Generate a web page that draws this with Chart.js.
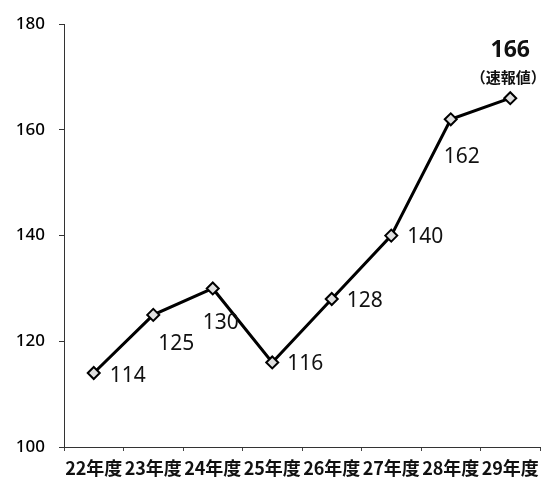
<!DOCTYPE html>
<html>
<head>
<meta charset="utf-8">
<script src="https://cdn.jsdelivr.net/npm/chart.js@4/dist/chart.umd.min.js"></script>
<style>
  html, body { margin: 0; padding: 0; background: #fff; }
  #wrap { width: 548px; height: 482px; position: relative; }
</style>
</head>
<body>
<div id="wrap"><canvas id="c" width="548" height="482"></canvas></div>
<script>
// Fiscal years and yearly counts
const categories = ['22年度', '23年度', '24年度', '25年度', '26年度', '27年度', '28年度', '29年度'];
const counts = [114, 125, 130, 116, 128, 140, 162, 166];
const yTicks = [100, 120, 140, 160, 180];
const lastNote = '（速報値）';

// Offsets of each value label relative to its point [dx, dy, align]
const labelOffsets = [
  [16, 3, 'left'],
  [5, 29, 'left'],
  [-10, 35, 'left'],
  [15, 2, 'left'],
  [15, 2, 'left'],
  [16, 1, 'left'],
  [-7, 38, 'left'],
  [0, -48, 'center']
];

const valueLabels = {
  id: 'valueLabels',
  afterDatasetsDraw(chart) {
    const ctx = chart.ctx;
    const meta = chart.getDatasetMeta(0);
    ctx.save();
    ctx.fillStyle = '#111';
    ctx.textBaseline = 'middle';
    meta.data.forEach((pt, i) => {
      const [dx, dy, align] = labelOffsets[i];
      const last = i === counts.length - 1;
      ctx.textAlign = align;
      ctx.font = last ? 'bold 23px "Noto Sans", sans-serif' : '21px "Noto Sans", sans-serif';
      ctx.fillText(String(counts[i]), pt.x + dx, pt.y + dy);
      if (last) {
        ctx.font = 'bold 15px "Noto Sans CJK JP", sans-serif';
        ctx.fillText(lastNote, pt.x + dx - 2, pt.y + dy + 27);
      }
    });
    ctx.restore();
  }
};

new Chart(document.getElementById('c'), {
  type: 'line',
  data: {
    labels: categories,
    datasets: [{
      data: counts,
      borderColor: '#000',
      borderWidth: 3,
      pointStyle: 'rectRot',
      pointRadius: 6,
      pointBackgroundColor: '#e0e0e0',
      pointBorderColor: '#000',
      pointBorderWidth: 2,
      tension: 0
    }]
  },
  options: {
    responsive: false,
    animation: false,
    layout: { padding: { top: 14, right: 8, left: 0, bottom: 0 } },
    plugins: { legend: { display: false }, tooltip: { enabled: false } },
    scales: {
      x: {
        offset: true,
        grid: {
          offset: true,
          drawOnChartArea: false,
          drawTicks: true,
          tickLength: 4,
          color: '#444'
        },
        border: { display: true, color: '#333', width: 1, dash: [1, 1] },
        ticks: {
          color: '#111',
          padding: 6,
          maxRotation: 0,
          autoSkip: false,
          font: { family: '"Noto Sans CJK JP", sans-serif', size: 18, weight: 'bold' }
        },
        afterFit(scale) { scale.height = 35; }
      },
      y: {
        min: 100,
        max: 180,
        afterBuildTicks(scale) { scale.ticks = yTicks.map(v => ({ value: v })); },
        grid: {
          drawOnChartArea: false,
          drawTicks: true,
          tickLength: 5,
          color: '#333'
        },
        border: { display: true, color: '#333', width: 1, dash: [1, 1] },
        ticks: {
          color: '#000',
          padding: 14,
          font: { family: '"Noto Sans", sans-serif', size: 17, weight: '500' }
        },
        afterFit(scale) { scale.width = 64; }
      }
    }
  },
  plugins: [valueLabels]
});
</script>
</body>
</html>
